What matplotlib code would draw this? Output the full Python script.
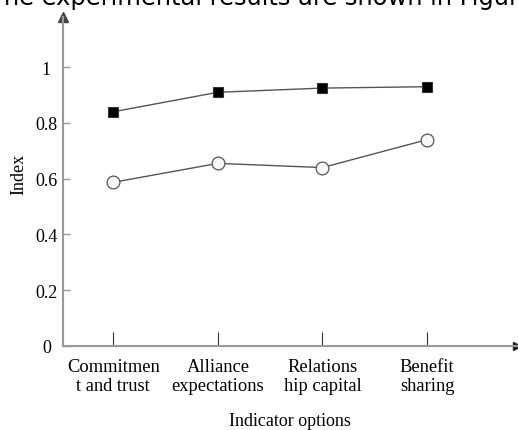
import matplotlib
matplotlib.use("Agg")
import matplotlib.pyplot as plt

# Chart values
categories = ["Commitmen\nt and trust", "Alliance\nexpectations", "Relations\nhip capital", "Benefit\nsharing"]
x_pos = [1, 2, 3, 4]
series_square = [0.84, 0.91, 0.925, 0.93]
series_circle = [0.587, 0.655, 0.64, 0.74]
y_ticks = [0, 0.2, 0.4, 0.6, 0.8, 1]
y_ticklabels = ["0", "0.2", "0.4", "0.6", "0.8", "1"]

plt.rcParams["font.family"] = ["Liberation Serif", "DejaVu Serif"]

fig = plt.figure(figsize=(5.18, 4.31), dpi=100)
ax = fig.add_axes([63 / 518, 1 - 347 / 431, (517 - 63) / 518, (347 - 18) / 431])

ax.plot(x_pos, series_square, color="#555555", lw=1.0, marker="s", ms=7.8,
        mfc="black", mec="#333333", mew=0.8, zorder=3)
ax.plot(x_pos, series_circle, color="#555555", lw=1.0, marker="o", ms=9.2,
        mfc="#f7f7f7", mec="#555555", mew=0.9, zorder=3)

ax.set_xlim(0.52, 4.86)
ax.set_ylim(0, 1.18)

ax.set_xticks(x_pos)
ax.set_xticklabels(categories, fontsize=13.3, linespacing=1.1)
ax.set_yticks(y_ticks)
ax.set_yticklabels(y_ticklabels, fontsize=13, ha="center")

ax.tick_params(axis="x", direction="in", length=10, width=0.8, color="#333333", pad=9)
ax.tick_params(axis="y", direction="in", length=5, width=1.0, color="#999999", pad=12)

for side in ["top", "right"]:
    ax.spines[side].set_visible(False)
ax.spines["left"].set_color("#999999")
ax.spines["left"].set_linewidth(1.5)
ax.spines["bottom"].set_color("#999999")
ax.spines["bottom"].set_linewidth(1.5)

# axis arrows
ax.plot(0, 1, marker="^", ms=7.5, color="#444444", transform=ax.transAxes, clip_on=False)
ax.plot(1, 0, marker=">", ms=6, color="#222222", transform=ax.transAxes, clip_on=False)

ax.set_xlabel("Indicator options", fontsize=13, labelpad=13)
ax.set_ylabel("Index", fontsize=13)
ax.yaxis.set_label_coords(-0.078, 0.526)

# text from the surrounding page, cut off at the top edge as in the reference
fig.text(-0.022, 1 - 5 / 431, "The experimental results are shown in Figure",
         fontsize=17.4, family="DejaVu Sans", va="baseline", ha="left")

fig.savefig("out.png", dpi=100)
